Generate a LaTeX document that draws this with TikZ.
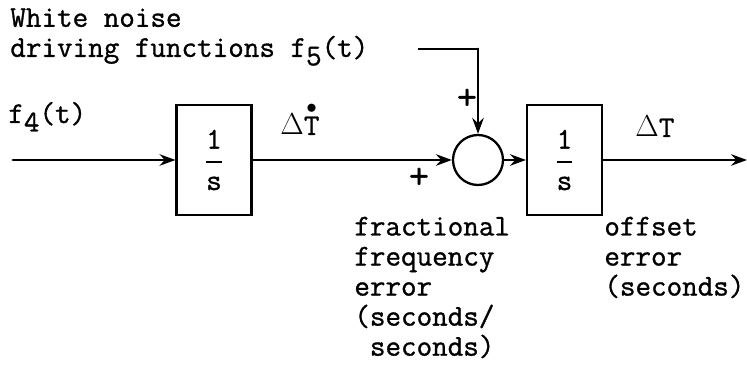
\documentclass[tikz,border=0pt]{standalone}
\usepackage{amsmath}
\usepackage{fontspec}
\setmonofont{Latin Modern Mono}[FakeBold=1]
\usepackage{tkz-euclide}
\usetikzlibrary{arrows.meta,calc}

\newcommand{\lowsub}[1]{\raisebox{-0.65ex}{#1}}
\newcommand{\dotT}{\ooalign{T\cr\hidewidth\raisebox{0.72em}{$\scriptstyle\bullet$}\hidewidth\cr}}
\newcommand{\oneovers}{$\genfrac{}{}{1.1pt}{0}{\mbox{1}}{\mbox{s}}$}

\tikzset{
  intbox/.style={draw,line width=1.2pt,minimum width=1.5cm,minimum height=2.2cm,inner sep=0pt},
  sumcirc/.style={draw,circle,line width=1.3pt,minimum size=1cm,inner sep=0pt},
  sig/.style={line width=1.6pt,-{Stealth[length=9pt,width=6.5pt]}},
  txt/.style={inner sep=0pt,align=left},
  plus/.style={inner sep=0pt,font=\ttfamily\fontsize{22}{22}\selectfont}
}

\begin{document}
\begin{tikzpicture}[font=\ttfamily\fontsize{17.2}{17.1}\selectfont]
\useasboundingbox (0,0) rectangle (14.94,7.4);
\tkzSetUpLine[line width=1.6pt,color=black]

\tkzDefPoint(0.26,4.2){In}
\tkzDefPoint(14.94,4.2){Out}
\tkzDefPoint(4.28,4.2){A}
\tkzDefPoint(9.56,4.2){B}
\tkzDefPoint(11.29,4.2){C}
\tkzDefPoint(8.38,6.42){N}
\tkzDefPoint(9.56,6.42){K}

\node[intbox] (I1) at (A) {\oneovers};
\node[sumcirc] (S) at (B) {};
\node[intbox] (I2) at (C) {\oneovers};

\tkzDrawSegment[sig](In,I1.west)
\tkzDrawSegment[sig](I1.east,S.west)
\tkzDrawSegment[sig](S.east,I2.west)
\tkzDrawSegment[sig](I2.east,Out)
\tkzDrawSegment[line width=1.6pt,line cap=rect](N,K)
\tkzDrawSegment[sig](K,S.north)

% labels
\node[txt,anchor=north west] (noise) at (0.2,7.24) {White noise\\driving functions f\lowsub{5}(t)};
\node[txt,anchor=base west] (f4) at (0.16,4.94) {f\lowsub{4}(t)};
\node[txt,anchor=base] (dTdot) at (6.0,4.7) {$\Delta$\dotT};
\node[txt,anchor=base] (dT) at (13.1,4.66) {$\Delta$T};
\node[plus] (ptop) at (9.34,5.42) {+};
\node[plus] (pleft) at (8.38,3.84) {+};
\node[txt,anchor=north west] (ffe) at (7.08,3.07) {fractional\\frequency\\error\\(seconds/\\\hphantom{(}seconds)};
\node[txt,anchor=north west] (oe) at (12.08,3.07) {offset\\error\\(seconds)};

\end{tikzpicture}
\end{document}
